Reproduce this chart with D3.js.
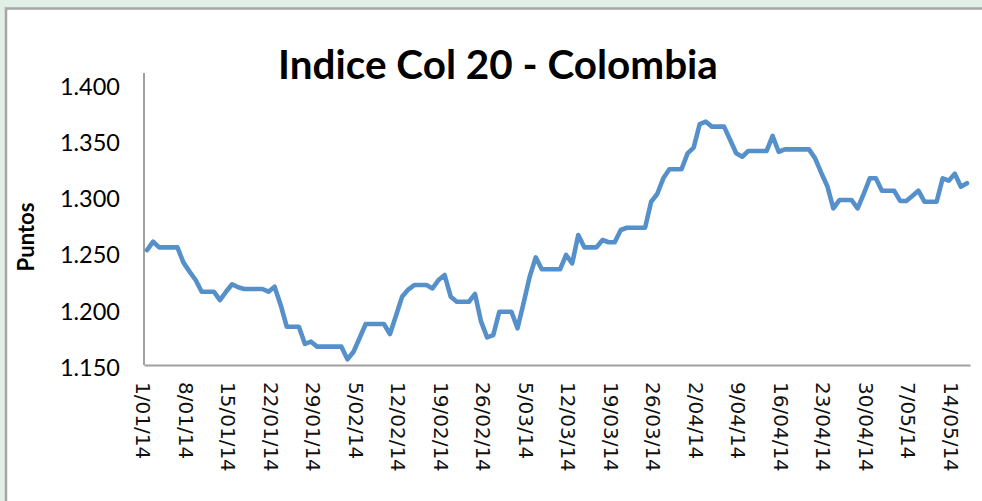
<!DOCTYPE html>
<html>
<head>
<meta charset="utf-8">
<script src="https://cdn.jsdelivr.net/npm/d3@7"></script>
<style>
  html, body { margin: 0; padding: 0; background: #e2efe6; }
  svg { display: block; }
</style>
</head>
<body>
<svg id="chart" width="982" height="501"></svg>
<script>
// ---- data ----
const startDate = "2014-01-01";
const endDate = "2014-05-16";
// daily closing values of the index (points, in thousands: 1.250 = 1,250)
const values = [
  1.252, 1.2595, 1.2545, 1.2545, 1.2545, 1.2545, 1.2409, 1.2329, 1.2255, 1.2151,
  1.2151, 1.2151, 1.2077, 1.215, 1.2217, 1.219, 1.2175, 1.2175, 1.2175, 1.2175,
  1.2151, 1.2195, 1.2033, 1.184, 1.184, 1.184, 1.1687, 1.1707, 1.1663, 1.1663,
  1.1663, 1.1663, 1.1663, 1.155, 1.1618, 1.174, 1.1864, 1.1864, 1.1864, 1.1864,
  1.1775, 1.194, 1.2107, 1.217, 1.221, 1.221, 1.221, 1.218, 1.2255, 1.2299,
  1.2107, 1.2062, 1.2062, 1.2062, 1.2131, 1.1885, 1.1746, 1.1766, 1.1973, 1.1973,
  1.1973, 1.1826, 1.205, 1.2284, 1.2456, 1.235, 1.235, 1.235, 1.235, 1.2477,
  1.2403, 1.2654, 1.2545, 1.2545, 1.2545, 1.261, 1.259, 1.259, 1.2699, 1.2719,
  1.2719, 1.2719, 1.2719, 1.295, 1.3019, 1.3158, 1.3238, 1.3238, 1.3238, 1.338,
  1.343, 1.364, 1.3661, 1.3617, 1.3617, 1.3617, 1.35, 1.338, 1.335, 1.340,
  1.340, 1.340, 1.340, 1.3534, 1.3394, 1.3415, 1.3415, 1.3415, 1.3415, 1.3415,
  1.3335, 1.3208, 1.309, 1.2891, 1.2965, 1.2965, 1.2965, 1.2891, 1.302, 1.3158,
  1.3158, 1.3048, 1.3048, 1.3048, 1.2957, 1.2957, 1.3001, 1.3048, 1.295, 1.295,
  1.295, 1.3158, 1.3137, 1.3198, 1.3083, 1.3114
];
const xTickLabels = ["1/01/14","8/01/14","15/01/14","22/01/14","29/01/14","5/02/14","12/02/14",
  "19/02/14","26/02/14","5/03/14","12/03/14","19/03/14","26/03/14","2/04/14","9/04/14",
  "16/04/14","23/04/14","30/04/14","7/05/14","14/05/14"];
const yTicks = [1.15, 1.20, 1.25, 1.30, 1.35, 1.40];
const yTickLabels = ["1.150","1.200","1.250","1.300","1.350","1.400"];
const titleText = "Indice Col 20 - Colombia";
const yTitle = "Puntos";

// ---- build ----
const parse = d3.timeParse("%Y-%m-%d");
const start = parse(startDate);
const dates = d3.timeDay.range(start, d3.timeDay.offset(parse(endDate), 1));
const data = dates.map((d, i) => ({date: d, value: values[i]}));
const tickDates = xTickLabels.map(s => {
  const [dd, mm, yy] = s.split("/").map(Number);
  return new Date(2000 + yy, mm - 1, dd);
});

const svg = d3.select("#chart");

// chart frame
svg.append("rect").attr("x", 6).attr("y", 8.5).attr("width", 1000).attr("height", 520)
  .attr("fill", "#ffffff").attr("stroke", "#a6a6a6").attr("stroke-width", 2.5);

const x = d3.scaleTime()
  .domain([d3.timeHour.offset(start, -12), d3.timeHour.offset(dates[dates.length - 1], 12)])
  .range([144, 970]);
const y = d3.scaleLinear().domain([1.15, 1.40]).range([365, 83.5]);

// axes lines
svg.append("line").attr("x1", 144).attr("x2", 144).attr("y1", 73).attr("y2", 365)
  .attr("stroke", "#a0a0a0").attr("stroke-width", 2);
const xAxis = d3.axisBottom(x).tickValues(tickDates).tickSize(0)
  .tickFormat((d, i) => xTickLabels[i]);
const gx = svg.append("g").attr("transform", "translate(0,365)").call(xAxis);
gx.select(".domain").attr("stroke", "#a0a0a0").attr("stroke-width", 2);
gx.selectAll("text")
  .attr("font-family", "DejaVu Sans").attr("font-size", 20).attr("fill", "#111")
  .attr("text-anchor", "start")
  .attr("transform", "rotate(90)")
  .attr("x", 17).attr("y", 0).attr("dy", "0.45em");
gx.selectAll(".tick").attr("transform", d => `translate(${x(d) - 2},0)`);

const yAxis = d3.axisLeft(y).tickValues(yTicks).tickSize(0)
  .tickFormat((d, i) => yTickLabels[i]);
const gy = svg.append("g").attr("transform", "translate(144,0)").call(yAxis);
gy.select(".domain").remove();
gy.selectAll("text")
  .attr("font-family", "Lato, 'Open Sans', sans-serif").attr("font-size", 23.5).attr("fill", "#000")
  .attr("x", -24).attr("dy", "0.45em");

// line
const line = d3.line().x(d => x(d.date)).y(d => y(d.value));
svg.append("path").datum(data)
  .attr("d", line)
  .attr("fill", "none")
  .attr("stroke", "#5690cb")
  .attr("stroke-width", 4.6)
  .attr("stroke-linejoin", "round")
  .attr("stroke-linecap", "round");

// title
const t = svg.append("text").text(titleText)
  .attr("x", 498).attr("y", 79)
  .attr("text-anchor", "middle")
  .attr("font-family", "Lato, 'Open Sans', sans-serif")
  .attr("font-weight", "bold")
  .attr("font-size", 44).attr("fill", "#000");
const tw = t.node().getComputedTextLength();
t.attr("font-size", 44 * 440 / tw);

// y title
const yt = svg.append("text").text(yTitle)
  .attr("transform", "translate(34,237) rotate(-90)")
  .attr("text-anchor", "middle")
  .attr("font-family", "Lato, 'Open Sans', sans-serif")
  .attr("font-weight", "bold")
  .attr("font-size", 22).attr("fill", "#000");
const yw = yt.node().getComputedTextLength();
yt.attr("font-size", 22 * 69 / yw);
</script>
</body>
</html>
